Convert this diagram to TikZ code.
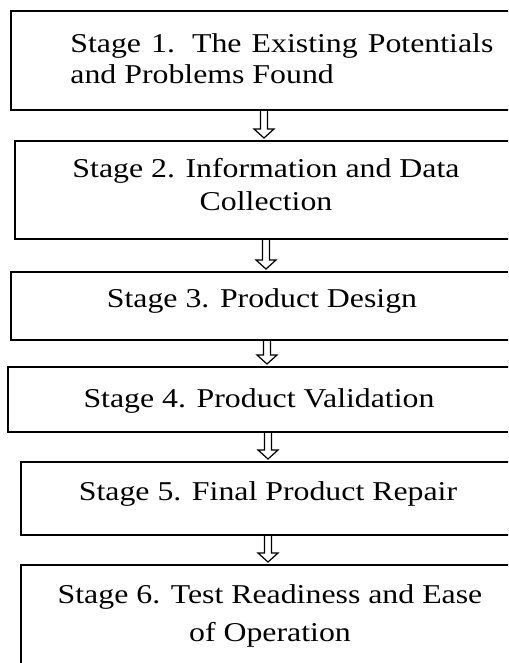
\documentclass[tikz,border=0pt]{standalone}
\usepackage{fontspec}
\setmainfont{Liberation Serif}[FakeStretch=1.17]
\usetikzlibrary{calc}

\begin{document}
\begin{tikzpicture}[x=0.5pt, y=-0.5pt,
  box/.style={draw, line width=0.8pt, anchor=north west, inner sep=0pt, outer sep=0pt,
    minimum width=260pt},
  stagetext/.style={font=\fontsize{13.6}{15.5}\selectfont, anchor=base, inner sep=0pt},
  hollow/.style={line width=0.6pt, line join=miter,
    to path={let \p1=(\tikztostart), \p2=(\tikztotarget) in
      (\x1-1.75pt,\y1) -- (\x1-1.75pt,\y2+6pt) -- (\x1-5pt,\y2+6pt) -- (\x1,\y2+1.5pt)
      -- (\x1+5pt,\y2+6pt) -- (\x1+1.75pt,\y2+6pt) -- (\x1+1.75pt,\y1)}}]
\path[use as bounding box, clip] (0,0) rectangle (508,663);
%% ---- Boxes ----
\node[box, minimum height=49.5pt] (s1) at (11,11) {};
\node[box, minimum height=49pt]   (s2) at (15,141) {};
\node[box, minimum height=34pt]   (s3) at (11,272) {};
\node[box, minimum height=32.5pt] (s4) at (8,367) {};
\node[box, minimum height=36.5pt] (s5) at (21,462) {};
\node[box, minimum height=65pt]   (s6) at (21,565) {};
%% ---- Stage texts (multi-line ones sit on their last line) ----
\node[stagetext, anchor=base west, text width=211.5pt, align=justify] (t1) at (70,53)
  {Stage 1. The Existing Potentials and Problems Found};
\node[stagetext, align=center, font=\fontsize{13.6}{17}\selectfont] (t2) at (266,211)
  {Stage 2. Information and Data\\Collection};
\node[stagetext] (t3) at (262,307) {Stage 3. Product Design};
\node[stagetext] (t4) at (259,407) {Stage 4. Product Validation};
\node[stagetext] (t5) at (268,500) {Stage 5. Final Product Repair};
\node[stagetext, align=center, font=\fontsize{13.6}{19}\selectfont] (t6) at (270,641)
  {Stage 6. Test Readiness and Ease\\of Operation};
%% ---- Arrows ----
\foreach \a/\b/\x [count=\i] in {s1/s2/264, s2/s3/266, s3/s4/267, s4/s5/268, s5/s6/268} {
  \coordinate (ax\i) at (\x,0);
  \draw[hollow] (\a.south -| ax\i) to (\b.north -| ax\i);
}
\end{tikzpicture}
\end{document}
